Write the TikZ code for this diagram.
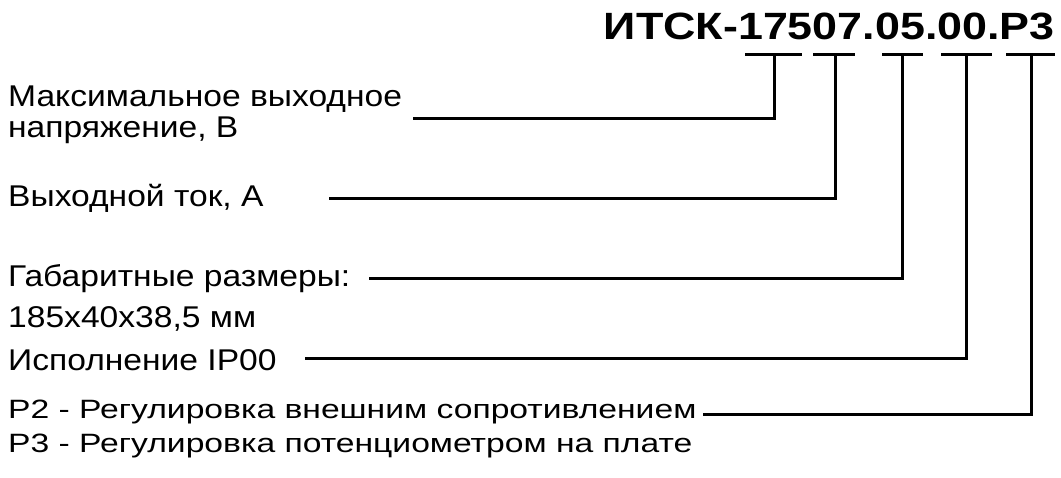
\documentclass[tikz,border=0pt]{standalone}
\usepackage{fontspec}
\setmainfont{Liberation Sans}
\newfontfamily\descfont[FakeStretch=1.12]{Liberation Sans}
\newfontfamily\regfont[FakeStretch=1.27]{Liberation Sans}
\newfontfamily\codefont[FakeStretch=1.18]{Liberation Sans}
\usetikzlibrary{positioning}
\tikzstyle{desc} = [anchor=base west, inner sep=0pt, font=\descfont\fontsize{30}{36}\selectfont]
\tikzstyle{descsmall} = [anchor=base west, inner sep=0pt, font=\regfont\fontsize{26.5}{32}\selectfont]
\tikzstyle{code} = [anchor=base east, inner sep=0pt, font=\codefont\fontsize{38}{46}\selectfont\bfseries]
\tikzstyle{leader} = [line width=3pt]

\begin{document}
\begin{tikzpicture}[x=1pt, y=-1pt]
    \useasboundingbox (0,0) rectangle (1061,478);
    \node (code) [code] at (1055,40) {ИТСК-17507.05.00.P3};

    \node (voltage) [desc] at (8,107) {Максимальное выходное};
    \node (voltage2) [desc] at (8,138) {напряжение, В};
    \node (current) [desc] at (8,207) {Выходной ток, А};
    \node (size) [desc] at (8,287) {Габаритные размеры:};
    \node (size2) [desc] at (8,328) {185x40x38,5 мм};
    \node (ip) [desc] at (8,371) {Исполнение IP00};
    \node (reg2) [descsmall] at (8,418) {P2 - Регулировка внешним сопротивлением};
    \node (reg3) [descsmall] at (8,452) {P3 - Регулировка потенциометром на плате};

    % underlines under the code groups, stems down to the leaders
    \foreach \a/\b/\s/\e/\l [count=\i] in {745/802/774/119/413, 813/855/835/199/329, 882/923/902/279/369, 941/992/966/359/305, 1006/1055/1031/415/703} {
        \coordinate (ua\i) at (\a,55);
        \coordinate (ub\i) at (\b,55);
        \coordinate (us\i) at (\s,55);
        \coordinate (le\i) at (\l,\e);
        \draw [leader] (ua\i) -- (ub\i);
        \draw [leader] (le\i) -| (us\i);
    }

\end{tikzpicture}
\end{document}
